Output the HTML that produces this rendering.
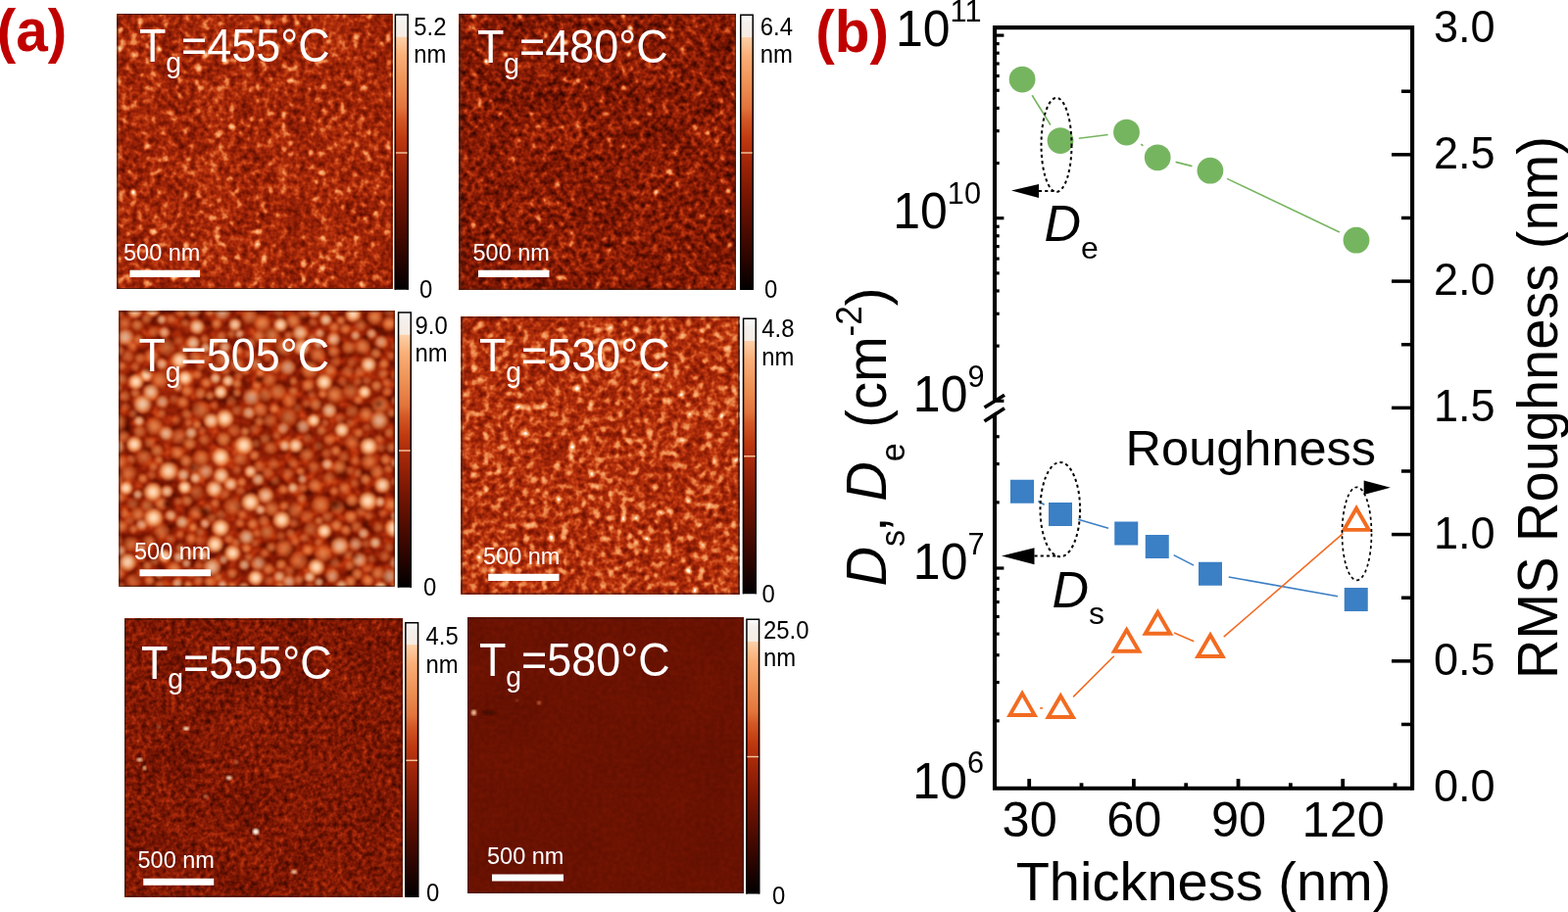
<!DOCTYPE html>
<html lang="en"><head><meta charset="utf-8"><title>Figure</title>
<style>html,body{margin:0;padding:0;background:#fff;}body{width:1600px;height:931px;overflow:hidden;}svg{display:block;}text{font-family:"Liberation Sans", Arial, Helvetica, sans-serif;}</style>
</head><body>
<svg width="1600" height="931" viewBox="0 0 1600 931">
<defs>
<linearGradient id="cbg" x1="0" y1="0" x2="0" y2="1">
<stop offset="0" stop-color="#fff"/><stop offset="0.03" stop-color="#f4f0ec"/><stop offset="0.082" stop-color="#f6ece2"/><stop offset="0.084" stop-color="#fdd0a8"/>
<stop offset="0.150" stop-color="rgb(250,175,120)"/>
<stop offset="0.250" stop-color="rgb(238,145,85)"/>
<stop offset="0.340" stop-color="rgb(226,116,60)"/>
<stop offset="0.380" stop-color="rgb(212,88,38)"/>
<stop offset="0.450" stop-color="rgb(192,58,16)"/>
<stop offset="0.500" stop-color="rgb(174,45,11)"/>
<stop offset="0.550" stop-color="rgb(156,36,8)"/>
<stop offset="0.650" stop-color="rgb(122,22,3)"/>
<stop offset="0.800" stop-color="rgb(72,10,0)"/>
<stop offset="0.900" stop-color="rgb(38,4,0)"/>
<stop offset="1.000" stop-color="rgb(0,0,0)"/>
</linearGradient>
<filter id="afm1" x="0" y="0" width="100%" height="100%" filterUnits="objectBoundingBox" color-interpolation-filters="sRGB">
<feTurbulence type="fractalNoise" baseFrequency="0.17" numOctaves="2" seed="3" result="t1"/>
<feColorMatrix in="t1" type="matrix" values="1 0 0 0 0  0 0 0 0 0  0 0 0 0 0  0 0 0 0 1" result="a"/>
<feTurbulence type="fractalNoise" baseFrequency="0.025" numOctaves="2" seed="23" result="t2"/>
<feColorMatrix in="t2" type="matrix" values="0 0 0 0 0  1 0 0 0 0  0 0 0 0 0  0 0 0 0 1" result="b"/>
<feTurbulence type="fractalNoise" baseFrequency="0.15" numOctaves="1" seed="43" result="t3"/>
<feColorMatrix in="t3" type="matrix" values="0 0 0 0 0  0 0 0 0 0  5 0 0 0 -3  0 0 0 0 1" result="c0"/>
<feGaussianBlur in="c0" stdDeviation="1.5" result="c"/>
<feComposite in="a" in2="b" operator="arithmetic" k1="0" k2="1" k3="1" k4="0" result="ab"/>
<feComposite in="ab" in2="c" operator="arithmetic" k1="0" k2="1" k3="1" k4="0" result="abc"/>
<feColorMatrix in="abc" type="matrix" values="0.5 0.18 0.6 0 0.115  0.5 0.18 0.6 0 0.115  0.5 0.18 0.6 0 0.115  0 0 0 0 1" result="h1"/>
<feGaussianBlur in="h1" stdDeviation="0.6" result="h2"/>
<feComponentTransfer><feFuncR type="table" tableValues="0.000 0.024 0.047 0.071 0.095 0.118 0.142 0.164 0.185 0.206 0.227 0.248 0.270 0.291 0.311 0.332 0.353 0.374 0.394 0.415 0.436 0.457 0.477 0.499 0.520 0.541 0.562 0.583 0.604 0.626 0.649 0.671 0.694 0.716 0.738 0.759 0.777 0.795 0.813 0.830 0.852 0.874 0.890 0.898 0.906 0.915 0.923 0.931 0.939 0.946 0.954 0.961 0.969 0.976 0.981 0.983 0.985 0.988 0.985 0.981 0.984 0.990 0.995 1.000"/><feFuncG type="table" tableValues="0.000 0.002 0.005 0.007 0.010 0.012 0.015 0.018 0.022 0.026 0.030 0.033 0.037 0.041 0.046 0.051 0.056 0.061 0.066 0.071 0.076 0.081 0.086 0.095 0.103 0.112 0.121 0.129 0.138 0.148 0.160 0.171 0.185 0.201 0.217 0.237 0.263 0.290 0.317 0.343 0.386 0.430 0.463 0.483 0.503 0.523 0.544 0.564 0.583 0.601 0.620 0.639 0.657 0.676 0.699 0.727 0.755 0.783 0.842 0.917 0.947 0.965 0.982 1.000"/><feFuncB type="table" tableValues="0.000 0.000 0.000 0.000 0.000 0.000 0.000 0.000 0.000 0.000 0.000 0.000 0.000 0.000 0.002 0.003 0.004 0.005 0.007 0.008 0.009 0.010 0.012 0.015 0.018 0.021 0.024 0.027 0.030 0.034 0.038 0.041 0.046 0.052 0.059 0.070 0.089 0.109 0.128 0.148 0.181 0.215 0.243 0.260 0.277 0.294 0.312 0.329 0.350 0.371 0.393 0.415 0.437 0.459 0.490 0.534 0.577 0.621 0.727 0.864 0.916 0.944 0.972 1.000"/></feComponentTransfer>
</filter>
<filter id="afm2" x="0" y="0" width="100%" height="100%" filterUnits="objectBoundingBox" color-interpolation-filters="sRGB">
<feTurbulence type="fractalNoise" baseFrequency="0.17" numOctaves="2" seed="7" result="t1"/>
<feColorMatrix in="t1" type="matrix" values="1 0 0 0 0  0 0 0 0 0  0 0 0 0 0  0 0 0 0 1" result="a"/>
<feTurbulence type="fractalNoise" baseFrequency="0.025" numOctaves="2" seed="27" result="t2"/>
<feColorMatrix in="t2" type="matrix" values="0 0 0 0 0  1 0 0 0 0  0 0 0 0 0  0 0 0 0 1" result="b"/>
<feTurbulence type="fractalNoise" baseFrequency="0.15" numOctaves="1" seed="47" result="t3"/>
<feColorMatrix in="t3" type="matrix" values="0 0 0 0 0  0 0 0 0 0  6 0 0 0 -3.9  0 0 0 0 1" result="c0"/>
<feGaussianBlur in="c0" stdDeviation="1.5" result="c"/>
<feComposite in="a" in2="b" operator="arithmetic" k1="0" k2="1" k3="1" k4="0" result="ab"/>
<feComposite in="ab" in2="c" operator="arithmetic" k1="0" k2="1" k3="1" k4="0" result="abc"/>
<feColorMatrix in="abc" type="matrix" values="0.65 0.16 0.7 0 -0.03  0.65 0.16 0.7 0 -0.03  0.65 0.16 0.7 0 -0.03  0 0 0 0 1" result="h1"/>
<feGaussianBlur in="h1" stdDeviation="0.6" result="h2"/>
<feComponentTransfer><feFuncR type="table" tableValues="0.000 0.024 0.047 0.071 0.095 0.118 0.142 0.164 0.185 0.206 0.227 0.248 0.270 0.291 0.311 0.332 0.353 0.374 0.394 0.415 0.436 0.457 0.477 0.499 0.520 0.541 0.562 0.583 0.604 0.626 0.649 0.671 0.694 0.716 0.738 0.759 0.777 0.795 0.813 0.830 0.852 0.874 0.890 0.898 0.906 0.915 0.923 0.931 0.939 0.946 0.954 0.961 0.969 0.976 0.981 0.983 0.985 0.988 0.985 0.981 0.984 0.990 0.995 1.000"/><feFuncG type="table" tableValues="0.000 0.002 0.005 0.007 0.010 0.012 0.015 0.018 0.022 0.026 0.030 0.033 0.037 0.041 0.046 0.051 0.056 0.061 0.066 0.071 0.076 0.081 0.086 0.095 0.103 0.112 0.121 0.129 0.138 0.148 0.160 0.171 0.185 0.201 0.217 0.237 0.263 0.290 0.317 0.343 0.386 0.430 0.463 0.483 0.503 0.523 0.544 0.564 0.583 0.601 0.620 0.639 0.657 0.676 0.699 0.727 0.755 0.783 0.842 0.917 0.947 0.965 0.982 1.000"/><feFuncB type="table" tableValues="0.000 0.000 0.000 0.000 0.000 0.000 0.000 0.000 0.000 0.000 0.000 0.000 0.000 0.000 0.002 0.003 0.004 0.005 0.007 0.008 0.009 0.010 0.012 0.015 0.018 0.021 0.024 0.027 0.030 0.034 0.038 0.041 0.046 0.052 0.059 0.070 0.089 0.109 0.128 0.148 0.181 0.215 0.243 0.260 0.277 0.294 0.312 0.329 0.350 0.371 0.393 0.415 0.437 0.459 0.490 0.534 0.577 0.621 0.727 0.864 0.916 0.944 0.972 1.000"/></feComponentTransfer>
</filter>
<filter id="afm3" x="0" y="0" width="100%" height="100%" filterUnits="objectBoundingBox" color-interpolation-filters="sRGB">
<feTurbulence type="fractalNoise" baseFrequency="0.09" numOctaves="2" seed="11" result="t1"/>
<feColorMatrix in="t1" type="matrix" values="1 0 0 0 0  0 0 0 0 0  0 0 0 0 0  0 0 0 0 1" result="a"/>
<feTurbulence type="fractalNoise" baseFrequency="0.02" numOctaves="2" seed="31" result="t2"/>
<feColorMatrix in="t2" type="matrix" values="0 0 0 0 0  1 0 0 0 0  0 0 0 0 0  0 0 0 0 1" result="b"/>
<feTurbulence type="fractalNoise" baseFrequency="0.075" numOctaves="1" seed="51" result="t3"/>
<feColorMatrix in="t3" type="matrix" values="0 0 0 0 0  0 0 0 0 0  5 0 0 0 -3  0 0 0 0 1" result="c0"/>
<feGaussianBlur in="c0" stdDeviation="2" result="c"/>
<feComposite in="a" in2="b" operator="arithmetic" k1="0" k2="1" k3="1" k4="0" result="ab"/>
<feComposite in="ab" in2="c" operator="arithmetic" k1="0" k2="1" k3="1" k4="0" result="abc"/>
<feColorMatrix in="abc" type="matrix" values="0.45 0.16 0.15 0 0.105  0.45 0.16 0.15 0 0.105  0.45 0.16 0.15 0 0.105  0 0 0 0 1" result="h1"/>
<feGaussianBlur in="h1" stdDeviation="0.7" result="h2"/>
<feComponentTransfer><feFuncR type="table" tableValues="0.000 0.024 0.047 0.071 0.095 0.118 0.142 0.164 0.185 0.206 0.227 0.248 0.270 0.291 0.311 0.332 0.353 0.374 0.394 0.415 0.436 0.457 0.477 0.499 0.520 0.541 0.562 0.583 0.604 0.626 0.649 0.671 0.694 0.716 0.738 0.759 0.777 0.795 0.813 0.830 0.852 0.874 0.890 0.898 0.906 0.915 0.923 0.931 0.939 0.946 0.954 0.961 0.969 0.976 0.981 0.983 0.985 0.988 0.985 0.981 0.984 0.990 0.995 1.000"/><feFuncG type="table" tableValues="0.000 0.002 0.005 0.007 0.010 0.012 0.015 0.018 0.022 0.026 0.030 0.033 0.037 0.041 0.046 0.051 0.056 0.061 0.066 0.071 0.076 0.081 0.086 0.095 0.103 0.112 0.121 0.129 0.138 0.148 0.160 0.171 0.185 0.201 0.217 0.237 0.263 0.290 0.317 0.343 0.386 0.430 0.463 0.483 0.503 0.523 0.544 0.564 0.583 0.601 0.620 0.639 0.657 0.676 0.699 0.727 0.755 0.783 0.842 0.917 0.947 0.965 0.982 1.000"/><feFuncB type="table" tableValues="0.000 0.000 0.000 0.000 0.000 0.000 0.000 0.000 0.000 0.000 0.000 0.000 0.000 0.000 0.002 0.003 0.004 0.005 0.007 0.008 0.009 0.010 0.012 0.015 0.018 0.021 0.024 0.027 0.030 0.034 0.038 0.041 0.046 0.052 0.059 0.070 0.089 0.109 0.128 0.148 0.181 0.215 0.243 0.260 0.277 0.294 0.312 0.329 0.350 0.371 0.393 0.415 0.437 0.459 0.490 0.534 0.577 0.621 0.727 0.864 0.916 0.944 0.972 1.000"/></feComponentTransfer>
</filter>
<filter id="afm4" x="0" y="0" width="100%" height="100%" filterUnits="objectBoundingBox" color-interpolation-filters="sRGB">
<feTurbulence type="fractalNoise" baseFrequency="0.17" numOctaves="2" seed="5" result="t1"/>
<feColorMatrix in="t1" type="matrix" values="1 0 0 0 0  0 0 0 0 0  0 0 0 0 0  0 0 0 0 1" result="a"/>
<feTurbulence type="fractalNoise" baseFrequency="0.025" numOctaves="2" seed="25" result="t2"/>
<feColorMatrix in="t2" type="matrix" values="0 0 0 0 0  1 0 0 0 0  0 0 0 0 0  0 0 0 0 1" result="b"/>
<feTurbulence type="fractalNoise" baseFrequency="0.15" numOctaves="1" seed="45" result="t3"/>
<feColorMatrix in="t3" type="matrix" values="0 0 0 0 0  0 0 0 0 0  5 0 0 0 -2.8  0 0 0 0 1" result="c0"/>
<feGaussianBlur in="c0" stdDeviation="1.5" result="c"/>
<feComposite in="a" in2="b" operator="arithmetic" k1="0" k2="1" k3="1" k4="0" result="ab"/>
<feComposite in="ab" in2="c" operator="arithmetic" k1="0" k2="1" k3="1" k4="0" result="abc"/>
<feColorMatrix in="abc" type="matrix" values="0.5 0.15 0.55 0 0.16  0.5 0.15 0.55 0 0.16  0.5 0.15 0.55 0 0.16  0 0 0 0 1" result="h1"/>
<feGaussianBlur in="h1" stdDeviation="0.6" result="h2"/>
<feComponentTransfer><feFuncR type="table" tableValues="0.000 0.024 0.047 0.071 0.095 0.118 0.142 0.164 0.185 0.206 0.227 0.248 0.270 0.291 0.311 0.332 0.353 0.374 0.394 0.415 0.436 0.457 0.477 0.499 0.520 0.541 0.562 0.583 0.604 0.626 0.649 0.671 0.694 0.716 0.738 0.759 0.777 0.795 0.813 0.830 0.852 0.874 0.890 0.898 0.906 0.915 0.923 0.931 0.939 0.946 0.954 0.961 0.969 0.976 0.981 0.983 0.985 0.988 0.985 0.981 0.984 0.990 0.995 1.000"/><feFuncG type="table" tableValues="0.000 0.002 0.005 0.007 0.010 0.012 0.015 0.018 0.022 0.026 0.030 0.033 0.037 0.041 0.046 0.051 0.056 0.061 0.066 0.071 0.076 0.081 0.086 0.095 0.103 0.112 0.121 0.129 0.138 0.148 0.160 0.171 0.185 0.201 0.217 0.237 0.263 0.290 0.317 0.343 0.386 0.430 0.463 0.483 0.503 0.523 0.544 0.564 0.583 0.601 0.620 0.639 0.657 0.676 0.699 0.727 0.755 0.783 0.842 0.917 0.947 0.965 0.982 1.000"/><feFuncB type="table" tableValues="0.000 0.000 0.000 0.000 0.000 0.000 0.000 0.000 0.000 0.000 0.000 0.000 0.000 0.000 0.002 0.003 0.004 0.005 0.007 0.008 0.009 0.010 0.012 0.015 0.018 0.021 0.024 0.027 0.030 0.034 0.038 0.041 0.046 0.052 0.059 0.070 0.089 0.109 0.128 0.148 0.181 0.215 0.243 0.260 0.277 0.294 0.312 0.329 0.350 0.371 0.393 0.415 0.437 0.459 0.490 0.534 0.577 0.621 0.727 0.864 0.916 0.944 0.972 1.000"/></feComponentTransfer>
</filter>
<filter id="afm5" x="0" y="0" width="100%" height="100%" filterUnits="objectBoundingBox" color-interpolation-filters="sRGB">
<feTurbulence type="fractalNoise" baseFrequency="0.2" numOctaves="2" seed="9" result="t1"/>
<feColorMatrix in="t1" type="matrix" values="1 0 0 0 0  0 0 0 0 0  0 0 0 0 0  0 0 0 0 1" result="a"/>
<feTurbulence type="fractalNoise" baseFrequency="0.025" numOctaves="2" seed="29" result="t2"/>
<feColorMatrix in="t2" type="matrix" values="0 0 0 0 0  1 0 0 0 0  0 0 0 0 0  0 0 0 0 1" result="b"/>
<feTurbulence type="fractalNoise" baseFrequency="0.21" numOctaves="1" seed="49" result="t3"/>
<feColorMatrix in="t3" type="matrix" values="0 0 0 0 0  0 0 0 0 0  6 0 0 0 -4.44  0 0 0 0 1" result="c0"/>
<feGaussianBlur in="c0" stdDeviation="1.1" result="c"/>
<feComposite in="a" in2="b" operator="arithmetic" k1="0" k2="1" k3="1" k4="0" result="ab"/>
<feComposite in="ab" in2="c" operator="arithmetic" k1="0" k2="1" k3="1" k4="0" result="abc"/>
<feColorMatrix in="abc" type="matrix" values="0.5 0.15 0.3 0 0.04  0.5 0.15 0.3 0 0.04  0.5 0.15 0.3 0 0.04  0 0 0 0 1" result="h1"/>
<feGaussianBlur in="h1" stdDeviation="0.5" result="h2"/>
<feComponentTransfer><feFuncR type="table" tableValues="0.000 0.024 0.047 0.071 0.095 0.118 0.142 0.164 0.185 0.206 0.227 0.248 0.270 0.291 0.311 0.332 0.353 0.374 0.394 0.415 0.436 0.457 0.477 0.499 0.520 0.541 0.562 0.583 0.604 0.626 0.649 0.671 0.694 0.716 0.738 0.759 0.777 0.795 0.813 0.830 0.852 0.874 0.890 0.898 0.906 0.915 0.923 0.931 0.939 0.946 0.954 0.961 0.969 0.976 0.981 0.983 0.985 0.988 0.985 0.981 0.984 0.990 0.995 1.000"/><feFuncG type="table" tableValues="0.000 0.002 0.005 0.007 0.010 0.012 0.015 0.018 0.022 0.026 0.030 0.033 0.037 0.041 0.046 0.051 0.056 0.061 0.066 0.071 0.076 0.081 0.086 0.095 0.103 0.112 0.121 0.129 0.138 0.148 0.160 0.171 0.185 0.201 0.217 0.237 0.263 0.290 0.317 0.343 0.386 0.430 0.463 0.483 0.503 0.523 0.544 0.564 0.583 0.601 0.620 0.639 0.657 0.676 0.699 0.727 0.755 0.783 0.842 0.917 0.947 0.965 0.982 1.000"/><feFuncB type="table" tableValues="0.000 0.000 0.000 0.000 0.000 0.000 0.000 0.000 0.000 0.000 0.000 0.000 0.000 0.000 0.002 0.003 0.004 0.005 0.007 0.008 0.009 0.010 0.012 0.015 0.018 0.021 0.024 0.027 0.030 0.034 0.038 0.041 0.046 0.052 0.059 0.070 0.089 0.109 0.128 0.148 0.181 0.215 0.243 0.260 0.277 0.294 0.312 0.329 0.350 0.371 0.393 0.415 0.437 0.459 0.490 0.534 0.577 0.621 0.727 0.864 0.916 0.944 0.972 1.000"/></feComponentTransfer>
</filter>
<filter id="afm6" x="0" y="0" width="100%" height="100%" filterUnits="objectBoundingBox" color-interpolation-filters="sRGB">
<feTurbulence type="fractalNoise" baseFrequency="0.2" numOctaves="2" seed="13" result="t1"/>
<feColorMatrix in="t1" type="matrix" values="1 0 0 0 0  0 0 0 0 0  0 0 0 0 0  0 0 0 0 1" result="a"/>
<feTurbulence type="fractalNoise" baseFrequency="0.02" numOctaves="2" seed="33" result="t2"/>
<feColorMatrix in="t2" type="matrix" values="0 0 0 0 0  1 0 0 0 0  0 0 0 0 0  0 0 0 0 1" result="b"/>
<feTurbulence type="fractalNoise" baseFrequency="0.2" numOctaves="1" seed="53" result="t3"/>
<feColorMatrix in="t3" type="matrix" values="0 0 0 0 0  0 0 0 0 0  8 0 0 0 -7.6  0 0 0 0 1" result="c0"/>
<feGaussianBlur in="c0" stdDeviation="1" result="c"/>
<feComposite in="a" in2="b" operator="arithmetic" k1="0" k2="1" k3="1" k4="0" result="ab"/>
<feComposite in="ab" in2="c" operator="arithmetic" k1="0" k2="1" k3="1" k4="0" result="abc"/>
<feColorMatrix in="abc" type="matrix" values="0.08 0.04 0.3 0 0.245  0.08 0.04 0.3 0 0.245  0.08 0.04 0.3 0 0.245  0 0 0 0 1" result="h1"/>
<feGaussianBlur in="h1" stdDeviation="0.5" result="h2"/>
<feComponentTransfer><feFuncR type="table" tableValues="0.000 0.024 0.047 0.071 0.095 0.118 0.142 0.164 0.185 0.206 0.227 0.248 0.270 0.291 0.311 0.332 0.353 0.374 0.394 0.415 0.436 0.457 0.477 0.499 0.520 0.541 0.562 0.583 0.604 0.626 0.649 0.671 0.694 0.716 0.738 0.759 0.777 0.795 0.813 0.830 0.852 0.874 0.890 0.898 0.906 0.915 0.923 0.931 0.939 0.946 0.954 0.961 0.969 0.976 0.981 0.983 0.985 0.988 0.985 0.981 0.984 0.990 0.995 1.000"/><feFuncG type="table" tableValues="0.000 0.002 0.005 0.007 0.010 0.012 0.015 0.018 0.022 0.026 0.030 0.033 0.037 0.041 0.046 0.051 0.056 0.061 0.066 0.071 0.076 0.081 0.086 0.095 0.103 0.112 0.121 0.129 0.138 0.148 0.160 0.171 0.185 0.201 0.217 0.237 0.263 0.290 0.317 0.343 0.386 0.430 0.463 0.483 0.503 0.523 0.544 0.564 0.583 0.601 0.620 0.639 0.657 0.676 0.699 0.727 0.755 0.783 0.842 0.917 0.947 0.965 0.982 1.000"/><feFuncB type="table" tableValues="0.000 0.000 0.000 0.000 0.000 0.000 0.000 0.000 0.000 0.000 0.000 0.000 0.000 0.000 0.002 0.003 0.004 0.005 0.007 0.008 0.009 0.010 0.012 0.015 0.018 0.021 0.024 0.027 0.030 0.034 0.038 0.041 0.046 0.052 0.059 0.070 0.089 0.109 0.128 0.148 0.181 0.215 0.243 0.260 0.277 0.294 0.312 0.329 0.350 0.371 0.393 0.415 0.437 0.459 0.490 0.534 0.577 0.621 0.727 0.864 0.916 0.944 0.972 1.000"/></feComponentTransfer>
</filter>
<radialGradient id="gr"><stop offset="0" stop-color="#f8a466" stop-opacity="1"/><stop offset="0.45" stop-color="#ec8042" stop-opacity="0.95"/><stop offset="0.78" stop-color="#d45a22" stop-opacity="0.7"/><stop offset="1" stop-color="#b83c10" stop-opacity="0"/></radialGradient><radialGradient id="gb"><stop offset="0" stop-color="#ffe8cc" stop-opacity="1"/><stop offset="0.4" stop-color="#fcc090" stop-opacity="1"/><stop offset="0.75" stop-color="#ea8848" stop-opacity="0.8"/><stop offset="1" stop-color="#c84c18" stop-opacity="0"/></radialGradient>
<filter id="soft" x="-5%" y="-5%" width="110%" height="110%"><feGaussianBlur stdDeviation="0.8"/></filter>
<radialGradient id="dk"><stop offset="0" stop-color="#3a0a00" stop-opacity="0.9"/><stop offset="1" stop-color="#6a1604" stop-opacity="0"/></radialGradient>
<clipPath id="clip3"><rect x="121.5" y="317.5" width="281.2" height="281.3"/></clipPath>
</defs>
<rect width="1600" height="931" fill="#fff"/>
<text transform="translate(-3.2,52.3) scale(0.97,1)" font-size="60.3" font-weight="bold" fill="#c00000">(a)</text>
<g>
<rect x="119.5" y="14" width="280.8" height="281" fill="#8a2a0c" filter="url(#afm1)"/>
<rect x="120" y="14.5" width="279.8" height="280" fill="none" stroke="#3a1a10" stroke-width="1" stroke-opacity="0.8"/>
<text transform="translate(141.9,63.3) scale(0.945,1)" font-size="47.5" fill="#fff">T<tspan font-size="30" dy="10.9">g</tspan><tspan dy="-10.9">=455°C</tspan></text>
<text x="126" y="266" font-size="23.5" fill="#fff">500 nm</text>
<rect x="132.5" y="275.75" width="71.5" height="7.25" fill="#fff"/>
</g>
<g>
<rect x="468.9" y="14" width="281.8" height="281.7" fill="#8a2a0c" filter="url(#afm2)"/>
<rect x="469.4" y="14.5" width="280.8" height="280.7" fill="none" stroke="#3a1a10" stroke-width="1" stroke-opacity="0.8"/>
<text transform="translate(486.9,63.6) scale(0.945,1)" font-size="47.5" fill="#fff">T<tspan font-size="30" dy="10.9">g</tspan><tspan dy="-10.9">=480°C</tspan></text>
<text x="482.5" y="266" font-size="23.5" fill="#fff">500 nm</text>
<rect x="488" y="275.75" width="72.5" height="7.25" fill="#fff"/>
</g>
<g>
<rect x="121.5" y="317.5" width="281.2" height="281.3" fill="#8a2a0c" filter="url(#afm3)"/>
<g clip-path="url(#clip3)"><g filter="url(#soft)">
<circle cx="330.9" cy="542.1" r="8.5" fill="url(#gb)" opacity="1.00"/>
<circle cx="382.4" cy="323.8" r="9.2" fill="url(#gr)" opacity="0.78"/>
<circle cx="304.5" cy="572.3" r="10.6" fill="url(#gr)" opacity="0.63"/>
<circle cx="189.8" cy="470.5" r="7.5" fill="url(#gr)" opacity="0.76"/>
<circle cx="181.3" cy="395.2" r="5.2" fill="url(#gb)" opacity="0.61"/>
<circle cx="165.0" cy="542.7" r="9.4" fill="url(#gr)" opacity="0.60"/>
<circle cx="155.6" cy="316.0" r="8.5" fill="url(#gb)" opacity="0.97"/>
<circle cx="180.9" cy="595.5" r="6.1" fill="url(#gb)" opacity="0.67"/>
<circle cx="393.5" cy="469.2" r="6.5" fill="url(#gr)" opacity="0.76"/>
<circle cx="387.7" cy="512.3" r="6.1" fill="url(#gb)" opacity="0.77"/>
<circle cx="204.7" cy="418.4" r="10.3" fill="url(#gr)" opacity="0.64"/>
<circle cx="138.1" cy="401.4" r="5.8" fill="url(#gr)" opacity="0.67"/>
<circle cx="312.7" cy="411.8" r="5.2" fill="url(#gr)" opacity="0.50"/>
<circle cx="256.5" cy="405.5" r="9.8" fill="url(#gb)" opacity="0.64"/>
<circle cx="135.7" cy="593.4" r="9.0" fill="url(#gr)" opacity="0.54"/>
<circle cx="360.3" cy="320.6" r="9.3" fill="url(#gb)" opacity="0.96"/>
<circle cx="284.4" cy="318.1" r="6.9" fill="url(#gr)" opacity="0.47"/>
<circle cx="391.7" cy="371.5" r="5.9" fill="url(#gr)" opacity="0.77"/>
<circle cx="388.0" cy="413.6" r="10.5" fill="url(#gr)" opacity="0.77"/>
<circle cx="340.5" cy="346.3" r="7.9" fill="url(#gb)" opacity="0.75"/>
<circle cx="145.5" cy="412.6" r="10.6" fill="url(#gb)" opacity="0.88"/>
<circle cx="216.4" cy="578.9" r="10.4" fill="url(#gb)" opacity="0.77"/>
<circle cx="209.8" cy="366.1" r="6.6" fill="url(#gr)" opacity="0.47"/>
<circle cx="315.9" cy="599.6" r="5.8" fill="url(#gr)" opacity="0.47"/>
<circle cx="187.1" cy="484.8" r="7.2" fill="url(#gb)" opacity="0.76"/>
<circle cx="239.7" cy="331.4" r="7.5" fill="url(#gb)" opacity="0.89"/>
<circle cx="260.2" cy="554.5" r="5.3" fill="url(#gr)" opacity="0.44"/>
<circle cx="390.2" cy="495.2" r="9.2" fill="url(#gb)" opacity="0.95"/>
<circle cx="243.3" cy="358.0" r="5.6" fill="url(#gr)" opacity="0.79"/>
<circle cx="248.6" cy="600.3" r="6.5" fill="url(#gb)" opacity="0.71"/>
<circle cx="248.8" cy="454.6" r="10.8" fill="url(#gb)" opacity="1.00"/>
<circle cx="226.9" cy="597.2" r="5.8" fill="url(#gb)" opacity="0.72"/>
<circle cx="197.1" cy="538.4" r="5.5" fill="url(#gr)" opacity="0.80"/>
<circle cx="343.5" cy="536.3" r="6.9" fill="url(#gr)" opacity="0.79"/>
<circle cx="336.0" cy="419.1" r="8.7" fill="url(#gb)" opacity="0.80"/>
<circle cx="257.9" cy="534.9" r="6.5" fill="url(#gr)" opacity="0.76"/>
<circle cx="122.8" cy="471.4" r="8.2" fill="url(#gr)" opacity="0.60"/>
<circle cx="251.4" cy="548.3" r="8.8" fill="url(#gb)" opacity="0.74"/>
<circle cx="218.6" cy="499.1" r="9.6" fill="url(#gb)" opacity="0.94"/>
<circle cx="219.3" cy="555.7" r="9.8" fill="url(#gb)" opacity="1.00"/>
<circle cx="397.7" cy="588.1" r="8.9" fill="url(#gb)" opacity="0.60"/>
<circle cx="255.5" cy="512.6" r="10.6" fill="url(#gb)" opacity="1.00"/>
<circle cx="309.2" cy="435.4" r="8.2" fill="url(#gb)" opacity="0.65"/>
<circle cx="301.0" cy="520.8" r="9.5" fill="url(#gr)" opacity="0.55"/>
<circle cx="245.2" cy="500.8" r="5.8" fill="url(#gr)" opacity="0.49"/>
<circle cx="299.3" cy="327.4" r="8.9" fill="url(#gr)" opacity="0.77"/>
<circle cx="134.9" cy="353.6" r="6.2" fill="url(#gr)" opacity="0.55"/>
<circle cx="174.6" cy="325.7" r="5.9" fill="url(#gr)" opacity="0.61"/>
<circle cx="293.9" cy="483.7" r="7.0" fill="url(#gr)" opacity="0.55"/>
<circle cx="119.7" cy="431.0" r="10.3" fill="url(#gr)" opacity="0.71"/>
<circle cx="152.3" cy="552.4" r="7.2" fill="url(#gr)" opacity="0.62"/>
<circle cx="294.4" cy="342.5" r="5.3" fill="url(#gr)" opacity="0.61"/>
<circle cx="285.1" cy="588.6" r="6.8" fill="url(#gb)" opacity="0.70"/>
<circle cx="351.2" cy="498.6" r="7.2" fill="url(#gr)" opacity="0.62"/>
<circle cx="280.8" cy="490.8" r="5.6" fill="url(#gr)" opacity="0.45"/>
<circle cx="373.5" cy="422.6" r="8.5" fill="url(#gr)" opacity="0.72"/>
<circle cx="202.6" cy="592.6" r="6.2" fill="url(#gr)" opacity="0.58"/>
<circle cx="399.1" cy="456.9" r="6.4" fill="url(#gr)" opacity="0.60"/>
<circle cx="255.4" cy="350.2" r="6.5" fill="url(#gr)" opacity="0.72"/>
<circle cx="386.0" cy="538.3" r="6.4" fill="url(#gr)" opacity="0.53"/>
<circle cx="163.6" cy="597.3" r="6.4" fill="url(#gr)" opacity="0.54"/>
<circle cx="205.2" cy="467.5" r="9.4" fill="url(#gr)" opacity="0.71"/>
<circle cx="270.5" cy="447.8" r="6.6" fill="url(#gr)" opacity="0.58"/>
<circle cx="249.3" cy="576.7" r="6.3" fill="url(#gb)" opacity="0.72"/>
<circle cx="123.6" cy="537.3" r="8.0" fill="url(#gr)" opacity="0.69"/>
<circle cx="321.3" cy="495.7" r="8.2" fill="url(#gr)" opacity="0.74"/>
<circle cx="229.4" cy="427.2" r="10.4" fill="url(#gb)" opacity="1.00"/>
<circle cx="204.0" cy="552.1" r="6.0" fill="url(#gr)" opacity="0.44"/>
<circle cx="342.0" cy="575.0" r="6.5" fill="url(#gr)" opacity="0.49"/>
<circle cx="276.0" cy="457.3" r="7.6" fill="url(#gr)" opacity="0.62"/>
<circle cx="286.5" cy="546.9" r="5.8" fill="url(#gr)" opacity="0.44"/>
<circle cx="353.1" cy="541.1" r="6.2" fill="url(#gr)" opacity="0.73"/>
<circle cx="325.4" cy="594.4" r="5.3" fill="url(#gb)" opacity="0.69"/>
<circle cx="133.4" cy="555.5" r="9.0" fill="url(#gr)" opacity="0.62"/>
<circle cx="202.9" cy="577.1" r="5.7" fill="url(#gr)" opacity="0.46"/>
<circle cx="140.0" cy="331.9" r="7.0" fill="url(#gr)" opacity="0.73"/>
<circle cx="369.9" cy="353.8" r="9.3" fill="url(#gr)" opacity="0.76"/>
<circle cx="290.6" cy="455.0" r="6.6" fill="url(#gb)" opacity="0.81"/>
<circle cx="135.4" cy="514.2" r="7.0" fill="url(#gr)" opacity="0.51"/>
<circle cx="263.7" cy="575.0" r="8.5" fill="url(#gb)" opacity="0.61"/>
<circle cx="333.4" cy="462.8" r="6.3" fill="url(#gr)" opacity="0.48"/>
<circle cx="225.3" cy="525.5" r="6.2" fill="url(#gr)" opacity="0.49"/>
<circle cx="306.2" cy="339.8" r="9.1" fill="url(#gb)" opacity="0.79"/>
<circle cx="155.1" cy="484.8" r="5.5" fill="url(#gr)" opacity="0.48"/>
<circle cx="162.5" cy="586.8" r="5.4" fill="url(#gr)" opacity="0.68"/>
<circle cx="152.6" cy="592.7" r="6.2" fill="url(#gr)" opacity="0.73"/>
<circle cx="186.5" cy="410.5" r="6.9" fill="url(#gr)" opacity="0.74"/>
<circle cx="229.4" cy="354.4" r="6.8" fill="url(#gb)" opacity="0.72"/>
<circle cx="348.8" cy="439.0" r="8.6" fill="url(#gb)" opacity="0.97"/>
<circle cx="253.5" cy="569.1" r="5.2" fill="url(#gr)" opacity="0.64"/>
<circle cx="164.8" cy="422.3" r="5.8" fill="url(#gr)" opacity="0.56"/>
<circle cx="162.9" cy="387.9" r="10.2" fill="url(#gr)" opacity="0.71"/>
<circle cx="201.3" cy="382.5" r="5.9" fill="url(#gr)" opacity="0.61"/>
<circle cx="388.9" cy="349.1" r="7.6" fill="url(#gb)" opacity="0.63"/>
<circle cx="141.8" cy="429.8" r="6.2" fill="url(#gb)" opacity="0.79"/>
<circle cx="208.4" cy="448.9" r="6.9" fill="url(#gr)" opacity="0.56"/>
<circle cx="324.1" cy="362.1" r="9.2" fill="url(#gr)" opacity="0.64"/>
<circle cx="397.5" cy="317.3" r="7.3" fill="url(#gr)" opacity="0.49"/>
<circle cx="188.9" cy="329.9" r="5.4" fill="url(#gr)" opacity="0.54"/>
<circle cx="192.3" cy="431.6" r="5.4" fill="url(#gr)" opacity="0.51"/>
<circle cx="264.5" cy="430.2" r="5.9" fill="url(#gr)" opacity="0.64"/>
<circle cx="209.0" cy="346.3" r="5.5" fill="url(#gr)" opacity="0.62"/>
<circle cx="290.0" cy="559.7" r="10.5" fill="url(#gr)" opacity="0.68"/>
<circle cx="355.0" cy="379.3" r="7.4" fill="url(#gr)" opacity="0.51"/>
<circle cx="144.5" cy="535.6" r="6.6" fill="url(#gb)" opacity="0.69"/>
<circle cx="156.5" cy="338.9" r="6.6" fill="url(#gr)" opacity="0.53"/>
<circle cx="241.7" cy="479.9" r="5.5" fill="url(#gr)" opacity="0.49"/>
<circle cx="319.2" cy="329.2" r="5.4" fill="url(#gr)" opacity="0.46"/>
<circle cx="226.0" cy="343.6" r="6.5" fill="url(#gr)" opacity="0.61"/>
<circle cx="333.9" cy="474.0" r="6.6" fill="url(#gb)" opacity="0.77"/>
<circle cx="327.0" cy="515.3" r="10.7" fill="url(#gr)" opacity="0.72"/>
<circle cx="200.9" cy="333.6" r="8.8" fill="url(#gb)" opacity="0.88"/>
<circle cx="127.3" cy="329.9" r="8.1" fill="url(#gr)" opacity="0.54"/>
<circle cx="364.5" cy="586.0" r="6.9" fill="url(#gr)" opacity="0.74"/>
<circle cx="241.7" cy="418.8" r="6.2" fill="url(#gr)" opacity="0.55"/>
<circle cx="146.7" cy="466.6" r="9.2" fill="url(#gr)" opacity="0.60"/>
<circle cx="279.8" cy="417.2" r="6.0" fill="url(#gr)" opacity="0.77"/>
<circle cx="219.8" cy="386.2" r="6.3" fill="url(#gb)" opacity="0.81"/>
<circle cx="130.3" cy="363.8" r="7.7" fill="url(#gr)" opacity="0.51"/>
<circle cx="376.1" cy="372.3" r="9.1" fill="url(#gb)" opacity="0.95"/>
<circle cx="314.1" cy="561.5" r="6.7" fill="url(#gr)" opacity="0.74"/>
<circle cx="226.8" cy="318.4" r="9.6" fill="url(#gb)" opacity="0.66"/>
<circle cx="127.2" cy="404.4" r="6.7" fill="url(#gr)" opacity="0.60"/>
<circle cx="320.0" cy="429.2" r="7.6" fill="url(#gb)" opacity="0.99"/>
<circle cx="272.5" cy="543.1" r="8.8" fill="url(#gr)" opacity="0.69"/>
<circle cx="313.1" cy="464.3" r="8.3" fill="url(#gr)" opacity="0.63"/>
<circle cx="384.3" cy="393.8" r="6.6" fill="url(#gr)" opacity="0.79"/>
<circle cx="375.2" cy="511.5" r="10.7" fill="url(#gb)" opacity="1.00"/>
<circle cx="293.6" cy="375.0" r="9.2" fill="url(#gb)" opacity="0.63"/>
<circle cx="170.3" cy="501.6" r="7.1" fill="url(#gb)" opacity="0.83"/>
<circle cx="294.4" cy="425.7" r="10.4" fill="url(#gr)" opacity="0.62"/>
<circle cx="277.2" cy="519.3" r="8.9" fill="url(#gr)" opacity="0.71"/>
<circle cx="299.9" cy="533.9" r="5.9" fill="url(#gr)" opacity="0.49"/>
<circle cx="199.5" cy="488.0" r="6.6" fill="url(#gb)" opacity="0.83"/>
<circle cx="288.9" cy="499.7" r="6.0" fill="url(#gr)" opacity="0.73"/>
<circle cx="137.0" cy="453.6" r="9.2" fill="url(#gb)" opacity="1.00"/>
<circle cx="359.1" cy="451.4" r="9.0" fill="url(#gr)" opacity="0.56"/>
<circle cx="322.7" cy="578.9" r="9.7" fill="url(#gb)" opacity="1.00"/>
<circle cx="137.9" cy="374.3" r="5.6" fill="url(#gr)" opacity="0.54"/>
<circle cx="313.4" cy="527.2" r="7.5" fill="url(#gr)" opacity="0.50"/>
<circle cx="260.7" cy="589.9" r="8.9" fill="url(#gb)" opacity="1.00"/>
<circle cx="152.8" cy="452.0" r="6.5" fill="url(#gr)" opacity="0.58"/>
<circle cx="283.6" cy="399.9" r="9.6" fill="url(#gr)" opacity="0.71"/>
<circle cx="267.5" cy="329.9" r="10.0" fill="url(#gr)" opacity="0.79"/>
<circle cx="124.2" cy="387.0" r="6.9" fill="url(#gr)" opacity="0.65"/>
<circle cx="397.2" cy="441.7" r="6.1" fill="url(#gr)" opacity="0.62"/>
<circle cx="237.3" cy="564.6" r="9.4" fill="url(#gb)" opacity="1.00"/>
<circle cx="154.7" cy="363.7" r="8.8" fill="url(#gr)" opacity="0.75"/>
<circle cx="228.1" cy="571.3" r="5.5" fill="url(#gb)" opacity="0.61"/>
<circle cx="290.2" cy="354.4" r="10.7" fill="url(#gr)" opacity="0.70"/>
<circle cx="241.8" cy="391.5" r="6.0" fill="url(#gr)" opacity="0.77"/>
<circle cx="340.4" cy="358.8" r="7.0" fill="url(#gr)" opacity="0.69"/>
<circle cx="255.6" cy="481.3" r="7.0" fill="url(#gb)" opacity="0.88"/>
<circle cx="320.6" cy="317.8" r="7.6" fill="url(#gb)" opacity="0.75"/>
<circle cx="263.2" cy="489.5" r="7.2" fill="url(#gb)" opacity="0.73"/>
<circle cx="225.1" cy="466.6" r="10.5" fill="url(#gb)" opacity="1.00"/>
<circle cx="247.4" cy="525.3" r="5.5" fill="url(#gr)" opacity="0.61"/>
<circle cx="356.0" cy="354.8" r="8.0" fill="url(#gr)" opacity="0.65"/>
<circle cx="280.8" cy="374.6" r="7.7" fill="url(#gr)" opacity="0.69"/>
<circle cx="395.2" cy="390.5" r="5.8" fill="url(#gr)" opacity="0.51"/>
<circle cx="330.7" cy="390.2" r="9.5" fill="url(#gb)" opacity="1.00"/>
<circle cx="194.6" cy="565.3" r="6.3" fill="url(#gr)" opacity="0.61"/>
<circle cx="169.9" cy="354.6" r="10.3" fill="url(#gr)" opacity="0.59"/>
<circle cx="130.8" cy="483.3" r="10.1" fill="url(#gr)" opacity="0.61"/>
<circle cx="194.6" cy="585.3" r="6.1" fill="url(#gr)" opacity="0.50"/>
<circle cx="357.7" cy="399.2" r="9.5" fill="url(#gr)" opacity="0.59"/>
<circle cx="298.9" cy="498.1" r="6.4" fill="url(#gb)" opacity="0.80"/>
<circle cx="235.9" cy="409.4" r="6.4" fill="url(#gr)" opacity="0.46"/>
<circle cx="385.5" cy="585.1" r="7.8" fill="url(#gr)" opacity="0.71"/>
<circle cx="350.6" cy="466.3" r="6.7" fill="url(#gr)" opacity="0.49"/>
<circle cx="387.1" cy="448.3" r="5.4" fill="url(#gr)" opacity="0.57"/>
<circle cx="335.7" cy="487.9" r="7.5" fill="url(#gr)" opacity="0.52"/>
<circle cx="403.8" cy="353.5" r="5.6" fill="url(#gr)" opacity="0.46"/>
<circle cx="246.7" cy="492.1" r="5.5" fill="url(#gr)" opacity="0.79"/>
<circle cx="318.6" cy="345.5" r="5.9" fill="url(#gr)" opacity="0.66"/>
<circle cx="221.0" cy="330.5" r="6.3" fill="url(#gr)" opacity="0.77"/>
<circle cx="301.6" cy="454.8" r="8.3" fill="url(#gb)" opacity="0.95"/>
<circle cx="157.4" cy="435.2" r="10.2" fill="url(#gr)" opacity="0.80"/>
<circle cx="156.0" cy="502.2" r="10.8" fill="url(#gb)" opacity="1.00"/>
<circle cx="119.8" cy="584.4" r="9.2" fill="url(#gr)" opacity="0.68"/>
<circle cx="397.2" cy="558.5" r="6.1" fill="url(#gr)" opacity="0.51"/>
<circle cx="306.6" cy="481.2" r="5.2" fill="url(#gr)" opacity="0.71"/>
<circle cx="225.7" cy="485.6" r="9.2" fill="url(#gb)" opacity="0.91"/>
<circle cx="250.1" cy="440.5" r="5.6" fill="url(#gr)" opacity="0.77"/>
<circle cx="241.7" cy="401.0" r="5.2" fill="url(#gr)" opacity="0.70"/>
<circle cx="315.9" cy="377.4" r="10.3" fill="url(#gr)" opacity="0.79"/>
<circle cx="359.0" cy="419.7" r="7.9" fill="url(#gr)" opacity="0.52"/>
<circle cx="121.5" cy="357.9" r="6.5" fill="url(#gr)" opacity="0.62"/>
<circle cx="352.2" cy="335.7" r="6.5" fill="url(#gr)" opacity="0.68"/>
<circle cx="363.6" cy="537.4" r="6.7" fill="url(#gr)" opacity="0.57"/>
<circle cx="313.8" cy="447.1" r="6.1" fill="url(#gr)" opacity="0.45"/>
<circle cx="367.9" cy="332.1" r="7.4" fill="url(#gr)" opacity="0.56"/>
<circle cx="194.8" cy="549.8" r="6.5" fill="url(#gr)" opacity="0.66"/>
<circle cx="169.5" cy="442.6" r="8.3" fill="url(#gb)" opacity="0.78"/>
<circle cx="200.6" cy="502.6" r="8.5" fill="url(#gr)" opacity="0.52"/>
<circle cx="165.6" cy="410.2" r="7.5" fill="url(#gb)" opacity="0.65"/>
<circle cx="362.7" cy="555.4" r="7.8" fill="url(#gb)" opacity="0.60"/>
<circle cx="225.1" cy="538.9" r="10.2" fill="url(#gb)" opacity="1.00"/>
<circle cx="156.6" cy="528.5" r="11.0" fill="url(#gb)" opacity="1.00"/>
<circle cx="198.7" cy="364.9" r="7.5" fill="url(#gr)" opacity="0.66"/>
<circle cx="341.4" cy="402.8" r="10.3" fill="url(#gr)" opacity="0.75"/>
<circle cx="261.9" cy="393.4" r="5.3" fill="url(#gr)" opacity="0.60"/>
<circle cx="182.5" cy="445.5" r="9.6" fill="url(#gr)" opacity="0.56"/>
<circle cx="403.2" cy="526.5" r="5.6" fill="url(#gb)" opacity="0.66"/>
<circle cx="324.7" cy="455.4" r="5.9" fill="url(#gr)" opacity="0.43"/>
<circle cx="358.0" cy="527.6" r="7.6" fill="url(#gr)" opacity="0.78"/>
<circle cx="184.5" cy="317.1" r="8.2" fill="url(#gr)" opacity="0.63"/>
<circle cx="199.8" cy="523.7" r="8.2" fill="url(#gr)" opacity="0.58"/>
<circle cx="219.7" cy="513.6" r="5.5" fill="url(#gr)" opacity="0.66"/>
<circle cx="339.1" cy="588.1" r="8.0" fill="url(#gb)" opacity="0.61"/>
<circle cx="259.8" cy="464.8" r="6.2" fill="url(#gr)" opacity="0.76"/>
<circle cx="341.0" cy="501.3" r="5.5" fill="url(#gr)" opacity="0.62"/>
<circle cx="271.0" cy="505.7" r="9.4" fill="url(#gb)" opacity="0.79"/>
<circle cx="209.2" cy="534.5" r="5.8" fill="url(#gb)" opacity="0.70"/>
<circle cx="190.7" cy="399.1" r="6.9" fill="url(#gr)" opacity="0.75"/>
<circle cx="244.7" cy="533.8" r="5.6" fill="url(#gr)" opacity="0.63"/>
<circle cx="374.6" cy="436.4" r="5.3" fill="url(#gr)" opacity="0.40"/>
<circle cx="149.2" cy="383.3" r="7.3" fill="url(#gb)" opacity="0.96"/>
<circle cx="122.4" cy="507.8" r="7.2" fill="url(#gr)" opacity="0.60"/>
<circle cx="143.8" cy="569.2" r="5.4" fill="url(#gr)" opacity="0.63"/>
<circle cx="240.8" cy="554.0" r="5.4" fill="url(#gr)" opacity="0.64"/>
<circle cx="376.2" cy="455.7" r="10.3" fill="url(#gb)" opacity="1.00"/>
<circle cx="372.0" cy="400.2" r="7.6" fill="url(#gb)" opacity="0.99"/>
<circle cx="382.9" cy="554.1" r="6.7" fill="url(#gb)" opacity="0.81"/>
<circle cx="218.6" cy="413.8" r="5.3" fill="url(#gr)" opacity="0.45"/>
<circle cx="236.9" cy="585.5" r="6.4" fill="url(#gr)" opacity="0.70"/>
<circle cx="182.0" cy="347.6" r="6.0" fill="url(#gr)" opacity="0.43"/>
<circle cx="168.1" cy="567.5" r="7.7" fill="url(#gb)" opacity="0.94"/>
<circle cx="250.4" cy="378.5" r="5.3" fill="url(#gr)" opacity="0.66"/>
<circle cx="204.4" cy="401.7" r="6.9" fill="url(#gr)" opacity="0.74"/>
<circle cx="344.6" cy="518.4" r="8.3" fill="url(#gr)" opacity="0.58"/>
<circle cx="171.8" cy="481.0" r="10.9" fill="url(#gb)" opacity="0.95"/>
<circle cx="372.9" cy="489.3" r="6.5" fill="url(#gr)" opacity="0.78"/>
<circle cx="213.7" cy="594.3" r="6.4" fill="url(#gr)" opacity="0.74"/>
<circle cx="141.1" cy="346.6" r="6.4" fill="url(#gr)" opacity="0.69"/>
<circle cx="253.8" cy="421.4" r="7.3" fill="url(#gb)" opacity="0.70"/>
<circle cx="197.4" cy="316.1" r="9.0" fill="url(#gb)" opacity="0.69"/>
<circle cx="327.9" cy="439.6" r="6.2" fill="url(#gr)" opacity="0.68"/>
<circle cx="209.8" cy="481.3" r="8.8" fill="url(#gb)" opacity="0.60"/>
<circle cx="314.4" cy="393.4" r="7.6" fill="url(#gr)" opacity="0.77"/>
<circle cx="357.7" cy="593.8" r="6.9" fill="url(#gr)" opacity="0.80"/>
<circle cx="388.4" cy="600.4" r="7.7" fill="url(#gb)" opacity="1.00"/>
<circle cx="190.7" cy="423.0" r="6.2" fill="url(#gr)" opacity="0.62"/>
<circle cx="366.7" cy="571.7" r="8.7" fill="url(#gb)" opacity="0.67"/>
<circle cx="279.1" cy="473.8" r="7.0" fill="url(#gr)" opacity="0.52"/>
<circle cx="261.2" cy="371.7" r="8.0" fill="url(#gr)" opacity="0.70"/>
<circle cx="299.1" cy="473.0" r="6.2" fill="url(#gr)" opacity="0.54"/>
<circle cx="235.4" cy="494.3" r="7.6" fill="url(#gb)" opacity="0.86"/>
<circle cx="188.9" cy="385.9" r="8.8" fill="url(#gb)" opacity="1.00"/>
<circle cx="185.8" cy="533.0" r="7.5" fill="url(#gb)" opacity="0.75"/>
<circle cx="310.6" cy="549.1" r="5.7" fill="url(#gr)" opacity="0.54"/>
<circle cx="228.0" cy="448.4" r="8.5" fill="url(#gr)" opacity="0.80"/>
<circle cx="346.6" cy="427.2" r="6.3" fill="url(#gr)" opacity="0.49"/>
<circle cx="179.6" cy="428.8" r="5.7" fill="url(#gr)" opacity="0.45"/>
<circle cx="265.6" cy="418.2" r="8.6" fill="url(#gr)" opacity="0.71"/>
<circle cx="390.8" cy="524.3" r="5.3" fill="url(#gr)" opacity="0.43"/>
<circle cx="342.7" cy="460.2" r="6.1" fill="url(#gr)" opacity="0.77"/>
<circle cx="183.8" cy="559.6" r="5.7" fill="url(#gr)" opacity="0.66"/>
<circle cx="128.6" cy="498.3" r="7.9" fill="url(#gb)" opacity="1.00"/>
<circle cx="286.2" cy="331.6" r="8.1" fill="url(#gb)" opacity="0.96"/>
<circle cx="243.5" cy="383.2" r="5.4" fill="url(#gr)" opacity="0.46"/>
<circle cx="294.8" cy="593.7" r="7.6" fill="url(#gb)" opacity="0.66"/>
<circle cx="222.3" cy="589.4" r="5.3" fill="url(#gr)" opacity="0.59"/>
<circle cx="209.8" cy="355.0" r="6.0" fill="url(#gb)" opacity="0.70"/>
<circle cx="142.3" cy="440.5" r="7.5" fill="url(#gr)" opacity="0.62"/>
<circle cx="191.0" cy="511.2" r="6.4" fill="url(#gr)" opacity="0.73"/>
<circle cx="127.3" cy="524.2" r="5.6" fill="url(#gr)" opacity="0.56"/>
<circle cx="157.7" cy="572.9" r="5.6" fill="url(#gr)" opacity="0.51"/>
<circle cx="320.1" cy="476.8" r="7.0" fill="url(#gr)" opacity="0.56"/>
<circle cx="286.8" cy="576.3" r="6.5" fill="url(#gr)" opacity="0.75"/>
<circle cx="379.1" cy="570.7" r="5.5" fill="url(#gr)" opacity="0.44"/>
<circle cx="399.0" cy="363.0" r="5.5" fill="url(#gr)" opacity="0.51"/>
<circle cx="259.5" cy="438.2" r="6.2" fill="url(#gr)" opacity="0.48"/>
<circle cx="376.7" cy="471.0" r="9.3" fill="url(#gr)" opacity="0.70"/>
<circle cx="198.6" cy="478.0" r="6.7" fill="url(#gr)" opacity="0.52"/>
<circle cx="346.6" cy="557.3" r="10.4" fill="url(#gb)" opacity="0.80"/>
<circle cx="130.3" cy="573.9" r="10.3" fill="url(#gb)" opacity="0.93"/>
<circle cx="183.2" cy="367.8" r="9.8" fill="url(#gb)" opacity="0.98"/>
<circle cx="127.9" cy="415.4" r="5.6" fill="url(#gr)" opacity="0.42"/>
<circle cx="322.2" cy="412.9" r="7.3" fill="url(#gr)" opacity="0.74"/>
<circle cx="295.4" cy="582.9" r="6.6" fill="url(#gr)" opacity="0.45"/>
<circle cx="193.6" cy="452.9" r="7.5" fill="url(#gr)" opacity="0.78"/>
<circle cx="274.5" cy="592.8" r="6.0" fill="url(#gr)" opacity="0.47"/>
<circle cx="357.0" cy="480.5" r="5.3" fill="url(#gr)" opacity="0.46"/>
<circle cx="299.3" cy="399.2" r="5.8" fill="url(#gr)" opacity="0.67"/>
<circle cx="177.6" cy="580.1" r="8.2" fill="url(#gr)" opacity="0.77"/>
<circle cx="332.5" cy="326.5" r="7.1" fill="url(#gb)" opacity="0.85"/>
<circle cx="316.9" cy="540.3" r="8.4" fill="url(#gr)" opacity="0.56"/>
<circle cx="237.6" cy="517.2" r="10.4" fill="url(#gr)" opacity="0.60"/>
<circle cx="140.6" cy="504.8" r="5.6" fill="url(#gb)" opacity="0.72"/>
<circle cx="160.2" cy="460.0" r="7.6" fill="url(#gr)" opacity="0.71"/>
<circle cx="376.0" cy="526.4" r="6.0" fill="url(#gr)" opacity="0.48"/>
<circle cx="245.0" cy="468.6" r="8.4" fill="url(#gr)" opacity="0.62"/>
<circle cx="392.5" cy="567.7" r="6.8" fill="url(#gr)" opacity="0.49"/>
<circle cx="366.0" cy="441.9" r="5.7" fill="url(#gr)" opacity="0.68"/>
<circle cx="364.8" cy="389.6" r="5.8" fill="url(#gr)" opacity="0.44"/>
<circle cx="164.9" cy="326.3" r="5.6" fill="url(#gb)" opacity="0.71"/>
<circle cx="153.9" cy="400.1" r="9.3" fill="url(#gb)" opacity="0.83"/>
<circle cx="149.6" cy="325.4" r="6.2" fill="url(#gr)" opacity="0.60"/>
<circle cx="177.6" cy="407.3" r="5.7" fill="url(#gr)" opacity="0.45"/>
<circle cx="329.9" cy="565.2" r="10.1" fill="url(#gr)" opacity="0.74"/>
<circle cx="404.4" cy="382.9" r="6.4" fill="url(#gr)" opacity="0.57"/>
<circle cx="227.5" cy="366.4" r="9.1" fill="url(#gr)" opacity="0.70"/>
<circle cx="403.9" cy="408.9" r="5.8" fill="url(#gr)" opacity="0.69"/>
<circle cx="303.6" cy="416.6" r="5.3" fill="url(#gr)" opacity="0.43"/>
<circle cx="150.4" cy="577.5" r="5.9" fill="url(#gr)" opacity="0.67"/>
<circle cx="225.1" cy="400.3" r="7.8" fill="url(#gb)" opacity="0.97"/>
<circle cx="342.3" cy="369.2" r="6.2" fill="url(#gr)" opacity="0.44"/>
<circle cx="341.3" cy="334.1" r="6.2" fill="url(#gr)" opacity="0.68"/>
<circle cx="400.2" cy="515.1" r="8.6" fill="url(#gr)" opacity="0.72"/>
<circle cx="200.9" cy="433.5" r="5.5" fill="url(#gr)" opacity="0.74"/>
<circle cx="324.9" cy="553.8" r="5.3" fill="url(#gr)" opacity="0.52"/>
<circle cx="404.3" cy="472.6" r="6.1" fill="url(#gb)" opacity="0.72"/>
<circle cx="361.9" cy="493.1" r="5.5" fill="url(#gr)" opacity="0.49"/>
<circle cx="386.9" cy="429.3" r="10.5" fill="url(#gb)" opacity="0.74"/>
<circle cx="174.2" cy="526.2" r="6.6" fill="url(#gb)" opacity="0.73"/>
<circle cx="288.9" cy="437.3" r="6.8" fill="url(#gb)" opacity="0.60"/>
<circle cx="379.0" cy="340.7" r="6.0" fill="url(#gb)" opacity="0.66"/>
<circle cx="277.6" cy="341.9" r="9.4" fill="url(#gr)" opacity="0.71"/>
<circle cx="402.5" cy="539.2" r="11.0" fill="url(#gb)" opacity="1.00"/>
<circle cx="326.3" cy="340.3" r="5.6" fill="url(#gb)" opacity="0.64"/>
<circle cx="307.9" cy="508.9" r="5.9" fill="url(#gr)" opacity="0.68"/>
<circle cx="287.4" cy="530.8" r="10.2" fill="url(#gb)" opacity="1.00"/>
<circle cx="138.7" cy="389.8" r="9.0" fill="url(#gb)" opacity="1.00"/>
<circle cx="358.9" cy="369.9" r="6.1" fill="url(#gr)" opacity="0.43"/>
<circle cx="261.2" cy="452.9" r="5.4" fill="url(#gr)" opacity="0.47"/>
<circle cx="190.4" cy="575.1" r="5.2" fill="url(#gb)" opacity="0.66"/>
<circle cx="397.3" cy="330.3" r="8.5" fill="url(#gr)" opacity="0.80"/>
<circle cx="145.7" cy="488.6" r="5.8" fill="url(#gr)" opacity="0.77"/>
<circle cx="173.9" cy="550.1" r="5.5" fill="url(#gr)" opacity="0.49"/>
<circle cx="357.5" cy="432.0" r="5.6" fill="url(#gr)" opacity="0.45"/>
<circle cx="301.1" cy="553.0" r="5.4" fill="url(#gr)" opacity="0.47"/>
<circle cx="336.0" cy="448.8" r="6.8" fill="url(#gr)" opacity="0.66"/>
<circle cx="207.0" cy="566.6" r="6.5" fill="url(#gb)" opacity="0.85"/>
<circle cx="210.4" cy="390.8" r="6.3" fill="url(#gr)" opacity="0.72"/>
<circle cx="339.9" cy="315.9" r="5.6" fill="url(#gr)" opacity="0.47"/>
<circle cx="274.9" cy="387.6" r="8.3" fill="url(#gr)" opacity="0.62"/>
<circle cx="172.9" cy="381.1" r="5.9" fill="url(#gr)" opacity="0.42"/>
<circle cx="215.3" cy="429.5" r="8.8" fill="url(#gb)" opacity="0.90"/>
<circle cx="133.8" cy="468.9" r="5.7" fill="url(#gr)" opacity="0.55"/>
<circle cx="359.0" cy="510.7" r="7.4" fill="url(#gr)" opacity="0.77"/>
<circle cx="162.2" cy="469.7" r="5.4" fill="url(#gr)" opacity="0.68"/>
<circle cx="197.0" cy="350.1" r="8.0" fill="url(#gb)" opacity="0.83"/>
<circle cx="325.1" cy="351.0" r="5.5" fill="url(#gb)" opacity="0.65"/>
<circle cx="403.5" cy="598.2" r="5.8" fill="url(#gr)" opacity="0.79"/>
<circle cx="375.4" cy="592.7" r="7.3" fill="url(#gr)" opacity="0.77"/>
<circle cx="269.4" cy="357.0" r="5.5" fill="url(#gr)" opacity="0.57"/>
<circle cx="188.4" cy="497.5" r="7.8" fill="url(#gb)" opacity="1.00"/>
<circle cx="192.2" cy="597.1" r="5.3" fill="url(#gr)" opacity="0.78"/>
<circle cx="269.9" cy="564.6" r="5.7" fill="url(#gr)" opacity="0.54"/>
<circle cx="349.6" cy="389.7" r="5.9" fill="url(#gr)" opacity="0.45"/>
<circle cx="265.6" cy="520.4" r="5.9" fill="url(#gb)" opacity="0.78"/>
<circle cx="399.7" cy="421.5" r="5.6" fill="url(#gr)" opacity="0.62"/>
<circle cx="182.2" cy="568.7" r="6.3" fill="url(#gb)" opacity="0.74"/>
<circle cx="307.9" cy="354.6" r="9.5" fill="url(#gb)" opacity="0.86"/>
<circle cx="362.6" cy="470.2" r="6.0" fill="url(#gr)" opacity="0.53"/>
<circle cx="366.8" cy="379.6" r="6.3" fill="url(#gr)" opacity="0.57"/>
<circle cx="124.1" cy="373.6" r="5.7" fill="url(#gr)" opacity="0.65"/>
<circle cx="204.1" cy="543.2" r="5.5" fill="url(#gr)" opacity="0.54"/>
<circle cx="290.0" cy="516.3" r="5.5" fill="url(#gr)" opacity="0.71"/>
<circle cx="273.1" cy="482.3" r="6.8" fill="url(#gr)" opacity="0.55"/>
<circle cx="164.4" cy="514.0" r="7.8" fill="url(#gr)" opacity="0.79"/>
<circle cx="368.1" cy="522.5" r="5.9" fill="url(#gr)" opacity="0.54"/>
<circle cx="230.0" cy="378.3" r="5.7" fill="url(#gr)" opacity="0.53"/>
<circle cx="140.7" cy="525.0" r="8.2" fill="url(#gr)" opacity="0.71"/>
<circle cx="346.3" cy="476.7" r="8.3" fill="url(#gr)" opacity="0.73"/>
<circle cx="125.7" cy="445.5" r="7.4" fill="url(#gr)" opacity="0.62"/>
<circle cx="275.3" cy="429.1" r="8.3" fill="url(#gr)" opacity="0.54"/>
<circle cx="315.9" cy="589.0" r="6.6" fill="url(#gb)" opacity="0.83"/>
<circle cx="254.6" cy="322.9" r="9.6" fill="url(#gr)" opacity="0.69"/>
<circle cx="156.5" cy="476.6" r="5.5" fill="url(#gr)" opacity="0.64"/>
<circle cx="239.0" cy="439.5" r="7.8" fill="url(#gr)" opacity="0.50"/>
<circle cx="390.8" cy="381.5" r="6.1" fill="url(#gr)" opacity="0.65"/>
<circle cx="142.9" cy="365.7" r="6.6" fill="url(#gr)" opacity="0.61"/>
<circle cx="165.0" cy="371.7" r="6.7" fill="url(#gb)" opacity="0.69"/>
<circle cx="347.9" cy="327.2" r="5.5" fill="url(#gr)" opacity="0.73"/>
<circle cx="264.7" cy="476.3" r="6.7" fill="url(#gr)" opacity="0.57"/>
<circle cx="137.4" cy="317.0" r="9.0" fill="url(#gb)" opacity="0.87"/>
<circle cx="181.0" cy="462.1" r="7.9" fill="url(#gr)" opacity="0.72"/>
<circle cx="181.9" cy="511.8" r="5.3" fill="url(#gr)" opacity="0.51"/>
<circle cx="214.0" cy="318.5" r="5.7" fill="url(#gr)" opacity="0.76"/>
<circle cx="127.8" cy="344.1" r="9.7" fill="url(#gb)" opacity="0.75"/>
<circle cx="384.7" cy="481.6" r="8.2" fill="url(#gr)" opacity="0.65"/>
<circle cx="244.4" cy="340.9" r="5.3" fill="url(#gb)" opacity="0.66"/>
<circle cx="365.6" cy="408.3" r="5.6" fill="url(#gr)" opacity="0.70"/>
<circle cx="167.6" cy="339.3" r="6.6" fill="url(#gb)" opacity="0.66"/>
<circle cx="211.8" cy="519.0" r="5.9" fill="url(#gr)" opacity="0.52"/>
<circle cx="356.9" cy="577.2" r="6.3" fill="url(#gr)" opacity="0.59"/>
<circle cx="119.5" cy="456.1" r="8.6" fill="url(#gb)" opacity="0.70"/>
<circle cx="276.6" cy="558.7" r="6.0" fill="url(#gr)" opacity="0.67"/>
<circle cx="241.6" cy="372.1" r="8.9" fill="url(#gr)" opacity="0.69"/>
<circle cx="135.7" cy="422.2" r="5.3" fill="url(#gr)" opacity="0.51"/>
<circle cx="373.3" cy="554.9" r="5.6" fill="url(#gr)" opacity="0.46"/>
<circle cx="236.1" cy="340.8" r="5.3" fill="url(#gr)" opacity="0.57"/>
<circle cx="336.8" cy="378.0" r="7.5" fill="url(#gr)" opacity="0.73"/>
<circle cx="195.0" cy="441.9" r="7.0" fill="url(#gb)" opacity="0.75"/>
<circle cx="269.0" cy="531.6" r="7.0" fill="url(#gr)" opacity="0.59"/>
<circle cx="136.2" cy="540.0" r="5.3" fill="url(#gr)" opacity="0.69"/>
<circle cx="219.2" cy="349.5" r="5.7" fill="url(#gr)" opacity="0.80"/>
<circle cx="273.9" cy="581.0" r="6.9" fill="url(#gr)" opacity="0.71"/>
<circle cx="119.7" cy="552.1" r="6.6" fill="url(#gr)" opacity="0.55"/>
<circle cx="395.2" cy="399.5" r="6.1" fill="url(#gr)" opacity="0.56"/>
<circle cx="402.9" cy="491.9" r="5.4" fill="url(#gr)" opacity="0.59"/>
<circle cx="264.3" cy="343.0" r="7.6" fill="url(#gr)" opacity="0.71"/>
<circle cx="308.6" cy="319.8" r="6.5" fill="url(#gr)" opacity="0.45"/>
<circle cx="295.4" cy="409.2" r="8.4" fill="url(#gr)" opacity="0.58"/>
<circle cx="308.6" cy="498.3" r="6.0" fill="url(#gr)" opacity="0.57"/>
<circle cx="362.7" cy="342.5" r="5.6" fill="url(#gb)" opacity="0.69"/>
<circle cx="404.5" cy="574.6" r="8.1" fill="url(#gb)" opacity="0.68"/>
<circle cx="348.6" cy="597.6" r="6.4" fill="url(#gb)" opacity="0.72"/>
<circle cx="206.2" cy="439.5" r="5.2" fill="url(#gr)" opacity="0.44"/>
<circle cx="396.1" cy="478.6" r="5.5" fill="url(#gr)" opacity="0.54"/>
<circle cx="325.5" cy="531.8" r="5.4" fill="url(#gr)" opacity="0.71"/>
<circle cx="251.4" cy="560.0" r="5.7" fill="url(#gr)" opacity="0.79"/>
<circle cx="273.3" cy="365.1" r="5.4" fill="url(#gr)" opacity="0.45"/>
<circle cx="265.3" cy="381.0" r="5.3" fill="url(#gr)" opacity="0.77"/>
<circle cx="254.2" cy="361.4" r="5.5" fill="url(#gr)" opacity="0.47"/>
<circle cx="270.4" cy="402.9" r="8.6" fill="url(#gr)" opacity="0.59"/>
<circle cx="204.5" cy="374.4" r="5.2" fill="url(#gr)" opacity="0.44"/>
<circle cx="144.6" cy="559.8" r="5.2" fill="url(#gb)" opacity="0.67"/>
<circle cx="299.5" cy="389.1" r="5.2" fill="url(#gr)" opacity="0.66"/>
<circle cx="282.5" cy="444.3" r="5.4" fill="url(#gr)" opacity="0.49"/>
<circle cx="375.4" cy="580.6" r="5.5" fill="url(#gr)" opacity="0.45"/>
<circle cx="383.5" cy="360.7" r="6.5" fill="url(#gr)" opacity="0.73"/>
<circle cx="329.3" cy="402.1" r="5.3" fill="url(#gr)" opacity="0.75"/>
<circle cx="132.2" cy="531.3" r="5.6" fill="url(#gr)" opacity="0.46"/>
<circle cx="237.1" cy="599.0" r="5.7" fill="url(#gr)" opacity="0.76"/>
<circle cx="219.5" cy="376.4" r="6.0" fill="url(#gr)" opacity="0.59"/>
<circle cx="122.2" cy="320.6" r="5.2" fill="url(#gr)" opacity="0.41"/>
<circle cx="144.7" cy="585.0" r="5.9" fill="url(#gr)" opacity="0.47"/>
<circle cx="286.0" cy="598.1" r="5.4" fill="url(#gr)" opacity="0.77"/>
<circle cx="334.2" cy="527.6" r="6.7" fill="url(#gr)" opacity="0.56"/>
<circle cx="296.6" cy="544.2" r="5.5" fill="url(#gr)" opacity="0.60"/>
<circle cx="183.4" cy="545.7" r="5.2" fill="url(#gr)" opacity="0.50"/>
<circle cx="122.7" cy="600.4" r="7.3" fill="url(#gr)" opacity="0.60"/>
<circle cx="365.0" cy="483.2" r="5.4" fill="url(#gr)" opacity="0.57"/>
<circle cx="119.7" cy="395.6" r="5.5" fill="url(#gr)" opacity="0.70"/>
<circle cx="261.9" cy="544.5" r="5.2" fill="url(#gr)" opacity="0.54"/>
<circle cx="305.0" cy="591.8" r="5.7" fill="url(#gr)" opacity="0.73"/>
<circle cx="388.6" cy="456.9" r="5.7" fill="url(#gr)" opacity="0.47"/>
<circle cx="229.5" cy="504.2" r="6.5" fill="url(#gr)" opacity="0.50"/>
<circle cx="308.5" cy="489.1" r="5.3" fill="url(#gb)" opacity="0.67"/>
<circle cx="122.9" cy="562.2" r="6.6" fill="url(#gb)" opacity="0.62"/>
<circle cx="355.4" cy="566.4" r="5.8" fill="url(#gr)" opacity="0.54"/>
<circle cx="331.7" cy="431.8" r="5.2" fill="url(#gr)" opacity="0.48"/>
<circle cx="216.0" cy="528.8" r="6.1" fill="url(#gr)" opacity="0.52"/>
<circle cx="370.8" cy="544.5" r="6.4" fill="url(#gb)" opacity="0.71"/>
<circle cx="374.2" cy="388.6" r="5.4" fill="url(#gr)" opacity="0.49"/>
<circle cx="232.6" cy="388.9" r="6.9" fill="url(#gb)" opacity="0.90"/>
<circle cx="119.9" cy="490.9" r="7.0" fill="url(#gr)" opacity="0.56"/>
<circle cx="214.2" cy="404.0" r="5.6" fill="url(#gr)" opacity="0.73"/>
<circle cx="318.3" cy="403.1" r="5.3" fill="url(#gr)" opacity="0.44"/>
<circle cx="150.0" cy="516.1" r="7.7" fill="url(#gr)" opacity="0.62"/>
<circle cx="233.5" cy="550.2" r="5.6" fill="url(#gr)" opacity="0.64"/>
<circle cx="188.1" cy="356.4" r="6.0" fill="url(#gr)" opacity="0.53"/>
<circle cx="208.5" cy="522.5" r="7.0" fill="url(#dk)" opacity="1.00"/>
<circle cx="170.5" cy="514.5" r="6.0" fill="url(#dk)" opacity="1.00"/>
<circle cx="341.5" cy="514.5" r="8.0" fill="url(#dk)" opacity="0.90"/>
<circle cx="264.5" cy="387.5" r="6.0" fill="url(#dk)" opacity="0.80"/>
<circle cx="196.5" cy="477.5" r="7.0" fill="url(#dk)" opacity="0.70"/>
<circle cx="386.5" cy="412.5" r="6.0" fill="url(#dk)" opacity="0.70"/>
<circle cx="301.5" cy="437.5" r="6.0" fill="url(#dk)" opacity="0.60"/>
<circle cx="151.5" cy="377.5" r="6.0" fill="url(#dk)" opacity="0.60"/>
<circle cx="361.5" cy="567.5" r="6.0" fill="url(#dk)" opacity="0.60"/>
</g></g>
<rect x="122" y="318" width="280.2" height="280.3" fill="none" stroke="#3a1a10" stroke-width="1" stroke-opacity="0.8"/>
<text transform="translate(141.4,378.75) scale(0.945,1)" font-size="47.5" fill="#fff">T<tspan font-size="30" dy="10.9">g</tspan><tspan dy="-10.9">=505°C</tspan></text>
<text x="137" y="570.75" font-size="23.5" fill="#fff">500 nm</text>
<rect x="142.5" y="581.25" width="72.5" height="7" fill="#fff"/>
</g>
<g>
<rect x="470.75" y="323.6" width="283.45" height="282.9" fill="#8a2a0c" filter="url(#afm4)"/>
<rect x="471.25" y="324.1" width="282.45" height="281.9" fill="none" stroke="#3a1a10" stroke-width="1" stroke-opacity="0.8"/>
<text transform="translate(488.9,378.75) scale(0.945,1)" font-size="47.5" fill="#fff">T<tspan font-size="30" dy="10.9">g</tspan><tspan dy="-10.9">=530°C</tspan></text>
<text x="493" y="575.5" font-size="23.5" fill="#fff">500 nm</text>
<rect x="498.25" y="585.75" width="72.25" height="7.25" fill="#fff"/>
</g>
<g>
<rect x="127" y="631.9" width="283.5" height="283.5" fill="#8a2a0c" filter="url(#afm5)"/>
<ellipse cx="190" cy="743.75" rx="3" ry="2" fill="#ffe0c0" opacity="0.95" filter="url(#soft)"/>
<ellipse cx="142.5" cy="775.5" rx="3" ry="2" fill="#ffd0a8" opacity="0.9" filter="url(#soft)"/>
<ellipse cx="147.5" cy="784" rx="2.2" ry="2.5" fill="#ffc090" opacity="0.8" filter="url(#soft)"/>
<ellipse cx="233.75" cy="794" rx="3" ry="2" fill="#ffd8b8" opacity="0.95" filter="url(#soft)"/>
<ellipse cx="241" cy="778" rx="2.5" ry="2" fill="#f09060" opacity="0.6" filter="url(#soft)"/>
<ellipse cx="210" cy="813" rx="2.5" ry="2" fill="#f0a070" opacity="0.6" filter="url(#soft)"/>
<ellipse cx="261" cy="849" rx="3.2" ry="3" fill="#fff0e0" opacity="1" filter="url(#soft)"/>
<ellipse cx="300" cy="890" rx="3" ry="2" fill="#ffd0a8" opacity="0.9" filter="url(#soft)"/>
<ellipse cx="162" cy="742" rx="2.5" ry="2" fill="#e88858" opacity="0.5" filter="url(#soft)"/>
<rect x="127.5" y="632.4" width="282.5" height="282.5" fill="none" stroke="#3a1a10" stroke-width="1" stroke-opacity="0.8"/>
<text transform="translate(143.9,692.5) scale(0.945,1)" font-size="47.5" fill="#fff">T<tspan font-size="30" dy="10.9">g</tspan><tspan dy="-10.9">=555°C</tspan></text>
<text x="140.5" y="886" font-size="23.5" fill="#fff">500 nm</text>
<rect x="146.25" y="896.75" width="72" height="7" fill="#fff"/>
</g>
<g>
<rect x="477" y="630.7" width="281.6" height="281.05" fill="#8a2a0c" filter="url(#afm6)"/>
<ellipse cx="483.5" cy="727.5" rx="2.6" ry="3" fill="#ffc8a0" opacity="0.9" filter="url(#soft)"/>
<ellipse cx="499" cy="727.5" rx="7" ry="2.6" fill="#3a0800" opacity="0.75" filter="url(#soft)"/>
<ellipse cx="550" cy="717.5" rx="2" ry="2" fill="#e88050" opacity="0.7" filter="url(#soft)"/>
<ellipse cx="527.5" cy="715" rx="1.6" ry="1.6" fill="#d87040" opacity="0.5" filter="url(#soft)"/>
<rect x="477.5" y="631.2" width="280.6" height="280.05" fill="none" stroke="#3a1a10" stroke-width="1" stroke-opacity="0.8"/>
<text transform="translate(488.9,690) scale(0.945,1)" font-size="47.5" fill="#fff">T<tspan font-size="30" dy="10.9">g</tspan><tspan dy="-10.9">=580°C</tspan></text>
<text x="497" y="882.25" font-size="23.5" fill="#fff">500 nm</text>
<rect x="502" y="892.5" width="73" height="7" fill="#fff"/>
</g>
<g>
<rect x="402.6" y="14.3" width="14.3" height="281.45" fill="url(#cbg)"/>
<path d="M403.35 295.75 V15.05 H416.15 V295.75" fill="none" stroke="#000" stroke-width="1.5"/>
<rect x="403.8" y="155.3" width="11.9" height="1.4" fill="#f6c9a0"/>
<text transform="translate(422.3,35.6) scale(0.955,1)" font-size="25" fill="#000">5.2</text>
<text transform="translate(422.3,64) scale(0.955,1)" font-size="25" fill="#000">nm</text>
<text transform="translate(428,304) scale(0.955,1)" font-size="25" fill="#000">0</text>
</g>
<g>
<rect x="755" y="14.5" width="14" height="281.5" fill="url(#cbg)"/>
<path d="M755.75 296 V15.25 H768.25 V296" fill="none" stroke="#000" stroke-width="1.5"/>
<rect x="756.2" y="155.3" width="11.6" height="1.4" fill="#f6c9a0"/>
<text transform="translate(775.8,35.6) scale(0.955,1)" font-size="25" fill="#000">6.4</text>
<text transform="translate(775.8,64) scale(0.955,1)" font-size="25" fill="#000">nm</text>
<text transform="translate(780,304) scale(0.955,1)" font-size="25" fill="#000">0</text>
</g>
<g>
<rect x="405.8" y="318.3" width="14.2" height="281.4" fill="url(#cbg)"/>
<path d="M406.55 599.7 V319.05 H419.25 V599.7" fill="none" stroke="#000" stroke-width="1.5"/>
<rect x="407" y="459.3" width="11.8" height="1.4" fill="#f6c9a0"/>
<text transform="translate(423.5,340.5) scale(0.955,1)" font-size="25" fill="#000">9.0</text>
<text transform="translate(423.5,369) scale(0.955,1)" font-size="25" fill="#000">nm</text>
<text transform="translate(432.1,608.4) scale(0.955,1)" font-size="25" fill="#000">0</text>
</g>
<g>
<rect x="757.8" y="324.6" width="14.2" height="281.65" fill="url(#cbg)"/>
<path d="M758.55 606.25 V325.35 H771.25 V606.25" fill="none" stroke="#000" stroke-width="1.5"/>
<rect x="759" y="465.05" width="11.8" height="1.4" fill="#f6c9a0"/>
<text transform="translate(777.3,344.4) scale(0.955,1)" font-size="25" fill="#000">4.8</text>
<text transform="translate(777.3,373) scale(0.955,1)" font-size="25" fill="#000">nm</text>
<text transform="translate(777.4,614.6) scale(0.955,1)" font-size="25" fill="#000">0</text>
</g>
<g>
<rect x="413.1" y="635" width="14.2" height="281" fill="url(#cbg)"/>
<path d="M413.85 916 V635.75 H426.55 V916" fill="none" stroke="#000" stroke-width="1.5"/>
<rect x="414.3" y="775.55" width="11.8" height="1.4" fill="#f6c9a0"/>
<text transform="translate(434.5,658) scale(0.955,1)" font-size="25" fill="#000">4.5</text>
<text transform="translate(434.5,686.5) scale(0.955,1)" font-size="25" fill="#000">nm</text>
<text transform="translate(435,920) scale(0.955,1)" font-size="25" fill="#000">0</text>
</g>
<g>
<rect x="761.2" y="631.5" width="14.1" height="281" fill="url(#cbg)"/>
<path d="M761.95 912.5 V632.25 H774.55 V912.5" fill="none" stroke="#000" stroke-width="1.5"/>
<rect x="762.4" y="771.8" width="11.7" height="1.4" fill="#f6c9a0"/>
<text transform="translate(779,652) scale(0.955,1)" font-size="25" fill="#000">25.0</text>
<text transform="translate(779,680.3) scale(0.955,1)" font-size="25" fill="#000">nm</text>
<text transform="translate(788,923) scale(0.955,1)" font-size="25" fill="#000">0</text>
</g>
<g id="chart">
<text transform="translate(832.3,52.5) scale(0.97,1)" font-size="60.3" font-weight="bold" fill="#c00000">(b)</text>
<g stroke="#000" stroke-width="4.1" fill="none" stroke-linecap="butt">
<path d="M1015 409.5 V28.1 H1441.1 V806.75"/>
<path d="M1015 424 V804.7 H1441.1"/>
</g>
<g stroke="#000" stroke-width="3.6" fill="none">
<path d="M1004.5 416 L1025 403.2"/>
<path d="M1004.5 430 L1025 416.7"/>
</g>
<g stroke="#000" stroke-width="3.2" fill="none">
<path d="M1015 36.10 H1024.4"/>
<path d="M1015 44.64 H1019.7"/>
<path d="M1015 54.18 H1019.7"/>
<path d="M1015 65.00 H1019.7"/>
<path d="M1015 77.50 H1019.7"/>
<path d="M1015 92.27 H1019.7"/>
<path d="M1015 110.36 H1019.7"/>
<path d="M1015 133.67 H1019.7"/>
<path d="M1015 166.53 H1019.7"/>
<path d="M1015 222.70 H1024.4"/>
<path d="M1015 231.24 H1019.7"/>
<path d="M1015 240.78 H1019.7"/>
<path d="M1015 251.60 H1019.7"/>
<path d="M1015 264.10 H1019.7"/>
<path d="M1015 278.87 H1019.7"/>
<path d="M1015 296.96 H1019.7"/>
<path d="M1015 320.27 H1019.7"/>
<path d="M1015 353.13 H1019.7"/>
<path d="M1015 409.30 H1024.4"/>
<path d="M1015 445.74 H1019.7"/>
<path d="M1015 473.60 H1019.7"/>
<path d="M1015 512.87 H1019.7"/>
<path d="M1015 580.00 H1024.4"/>
<path d="M1015 590.20 H1019.7"/>
<path d="M1015 601.61 H1019.7"/>
<path d="M1015 614.54 H1019.7"/>
<path d="M1015 629.47 H1019.7"/>
<path d="M1015 647.13 H1019.7"/>
<path d="M1015 668.74 H1019.7"/>
<path d="M1015 696.60 H1019.7"/>
<path d="M1015 735.87 H1019.7"/>
<path d="M1441.1 739.48 H1430" stroke-width="3.5"/>
<path d="M1441.1 674.85 H1420" stroke-width="3.5"/>
<path d="M1441.1 610.23 H1430" stroke-width="3.5"/>
<path d="M1441.1 545.60 H1420" stroke-width="3.5"/>
<path d="M1441.1 480.98 H1430" stroke-width="3.5"/>
<path d="M1441.1 416.35 H1420" stroke-width="3.5"/>
<path d="M1441.1 351.73 H1430" stroke-width="3.5"/>
<path d="M1441.1 287.10 H1420" stroke-width="3.5"/>
<path d="M1441.1 222.48 H1430" stroke-width="3.5"/>
<path d="M1441.1 157.85 H1420" stroke-width="3.5"/>
<path d="M1441.1 93.23 H1430" stroke-width="3.5"/>
<path d="M1050.20 804.7 V795.1" stroke-width="3.8"/>
<path d="M1103.53 804.7 V799.3" stroke-width="3.8"/>
<path d="M1156.87 804.7 V795.1" stroke-width="3.8"/>
<path d="M1210.20 804.7 V799.3" stroke-width="3.8"/>
<path d="M1263.54 804.7 V795.1" stroke-width="3.8"/>
<path d="M1316.87 804.7 V799.3" stroke-width="3.8"/>
<path d="M1370.20 804.7 V795.1" stroke-width="3.8"/>
<path d="M1423.54 804.7 V799.3" stroke-width="3.8"/>
</g>
<text transform="translate(1001.5,47) scale(0.96,1)" font-size="52" text-anchor="end" fill="#000">10<tspan font-size="32" dy="-25.5">11</tspan></text>
<text transform="translate(1001,233) scale(0.96,1)" font-size="52" text-anchor="end" fill="#000">10<tspan font-size="32" dy="-25.5">10</tspan></text>
<text transform="translate(1004.5,420) scale(0.96,1)" font-size="52" text-anchor="end" fill="#000">10<tspan font-size="32" dy="-25.5">9</tspan></text>
<text transform="translate(1004.5,591) scale(0.96,1)" font-size="52" text-anchor="end" fill="#000">10<tspan font-size="32" dy="-25.5">7</tspan></text>
<text transform="translate(1004,814.5) scale(0.96,1)" font-size="52" text-anchor="end" fill="#000">10<tspan font-size="32" dy="-25.5">6</tspan></text>
<text transform="translate(1463,818.20) scale(0.98,1)" font-size="46" fill="#000">0.0</text>
<text transform="translate(1463,688.95) scale(0.98,1)" font-size="46" fill="#000">0.5</text>
<text transform="translate(1463,559.70) scale(0.98,1)" font-size="46" fill="#000">1.0</text>
<text transform="translate(1463,430.45) scale(0.98,1)" font-size="46" fill="#000">1.5</text>
<text transform="translate(1463,301.20) scale(0.98,1)" font-size="46" fill="#000">2.0</text>
<text transform="translate(1463,171.95) scale(0.98,1)" font-size="46" fill="#000">2.5</text>
<text transform="translate(1463,42.70) scale(0.98,1)" font-size="46" fill="#000">3.0</text>
<text x="1050.70" y="854.3" font-size="50.5" text-anchor="middle" fill="#000">30</text>
<text x="1157.37" y="854.3" font-size="50.5" text-anchor="middle" fill="#000">60</text>
<text x="1264.04" y="854.3" font-size="50.5" text-anchor="middle" fill="#000">90</text>
<text x="1370.70" y="854.3" font-size="50.5" text-anchor="middle" fill="#000">120</text>
<text x="1228" y="919" font-size="56" text-anchor="middle" fill="#000">Thickness (nm)</text>
<text transform="translate(904,598.5) rotate(-90) scale(0.975,1)" font-size="57.5" fill="#000"><tspan font-style="italic">D</tspan><tspan font-size="35" dy="19">s</tspan><tspan dy="-19" dx="-2">, </tspan><tspan font-style="italic">D</tspan><tspan font-size="35" dy="19">e</tspan><tspan dy="-19"> (cm</tspan><tspan font-size="36" dy="-25">-2</tspan><tspan dy="25">)</tspan></text>
<text transform="translate(1588.5,416) rotate(-90) scale(0.991,1)" font-size="56.5" text-anchor="middle" fill="#000">RMS Roughness (nm)</text>
<line x1="1053.14" y1="97.23" x2="1071.96" y2="127.47" stroke="#76b560" stroke-width="1.6"/>
<line x1="1100.85" y1="141.23" x2="1130.65" y2="137.47" stroke="#76b560" stroke-width="1.6"/>
<line x1="1164.26" y1="147.07" x2="1166.44" y2="148.83" stroke="#76b560" stroke-width="1.6"/>
<line x1="1199.63" y1="165.40" x2="1216.47" y2="169.60" stroke="#76b560" stroke-width="1.6"/>
<line x1="1252.05" y1="182.37" x2="1366.85" y2="237.03" stroke="#76b560" stroke-width="1.6"/>
<line x1="1059.32" y1="511.48" x2="1065.68" y2="515.27" stroke="#3b7fc4" stroke-width="1.6"/>
<line x1="1100.25" y1="530.29" x2="1131.00" y2="539.21" stroke="#3b7fc4" stroke-width="1.6"/>
<line x1="1197.67" y1="566.65" x2="1218.08" y2="577.10" stroke="#3b7fc4" stroke-width="1.6"/>
<line x1="1253.71" y1="589.05" x2="1365.04" y2="608.70" stroke="#3b7fc4" stroke-width="1.6"/>
<line x1="1061.26" y1="722.86" x2="1064.14" y2="723.04" stroke="#f26b21" stroke-width="1.6"/>
<line x1="1095.17" y1="711.33" x2="1136.73" y2="669.77" stroke="#f26b21" stroke-width="1.6"/>
<line x1="1198.09" y1="646.06" x2="1218.31" y2="654.84" stroke="#f26b21" stroke-width="1.6"/>
<line x1="1248.75" y1="650.18" x2="1370.35" y2="544.72" stroke="#f26b21" stroke-width="1.6"/>
<circle cx="1043.1" cy="81.1" r="13.4" fill="#76b560"/>
<circle cx="1082" cy="143.6" r="13.4" fill="#76b560"/>
<circle cx="1149.5" cy="135.1" r="13.4" fill="#76b560"/>
<circle cx="1181.2" cy="160.8" r="13.4" fill="#76b560"/>
<circle cx="1234.9" cy="174.2" r="13.4" fill="#76b560"/>
<circle cx="1384" cy="245.2" r="13.4" fill="#76b560"/>
<rect x="1031" y="489.75" width="24" height="24" fill="#3b7fc4"/>
<rect x="1070" y="513" width="24" height="24" fill="#3b7fc4"/>
<rect x="1137.25" y="532.5" width="24" height="24" fill="#3b7fc4"/>
<rect x="1168.75" y="546" width="24" height="24" fill="#3b7fc4"/>
<rect x="1223" y="573.75" width="24" height="24" fill="#3b7fc4"/>
<rect x="1371.75" y="600" width="24" height="24" fill="#3b7fc4"/>
<path d="M1043.1 707.9 L1055.75 730.05 L1030.45 730.05 Z" fill="none" stroke="#f26b21" stroke-width="3.9" stroke-linejoin="miter" stroke-miterlimit="10"/>
<path d="M1082.3 710.4 L1094.95 732.05 L1069.65 732.05 Z" fill="none" stroke="#f26b21" stroke-width="3.9" stroke-linejoin="miter" stroke-miterlimit="10"/>
<path d="M1149.6 643.1 L1162.25 664.75 L1136.95 664.75 Z" fill="none" stroke="#f26b21" stroke-width="3.9" stroke-linejoin="miter" stroke-miterlimit="10"/>
<path d="M1181.4 625 L1194.05 646.75 L1168.75 646.75 Z" fill="none" stroke="#f26b21" stroke-width="3.9" stroke-linejoin="miter" stroke-miterlimit="10"/>
<path d="M1235 648.3 L1247.65 669.95 L1222.35 669.95 Z" fill="none" stroke="#f26b21" stroke-width="3.9" stroke-linejoin="miter" stroke-miterlimit="10"/>
<path d="M1384.1 519 L1396.75 540.85 L1371.45 540.85 Z" fill="none" stroke="#f26b21" stroke-width="3.9" stroke-linejoin="miter" stroke-miterlimit="10"/>
<g fill="none" stroke="#000" stroke-width="2" stroke-dasharray="3.1 3.1">
<ellipse cx="1078" cy="147.9" rx="15.5" ry="48"/>
<ellipse cx="1081.8" cy="520.1" rx="20.3" ry="48.2"/>
<ellipse cx="1384.5" cy="544.8" rx="15" ry="47.5" stroke-width="1.7"/>
<path d="M1060 195 H1076"/>
<path d="M1055.5 567.5 H1080"/>
</g>
<path d="M1032 194.5 L1060 188 L1060 202 Z" fill="#000"/>
<path d="M1022 567.5 L1055.5 559.25 L1055.5 576.25 Z" fill="#000"/>
<path d="M1418.9 497.7 L1391.7 490.6 L1391.7 504.9 Z" fill="#000"/>
<text x="1065.5" y="246.25" font-size="52" fill="#000"><tspan font-style="italic">D</tspan><tspan font-size="32" dy="18">e</tspan></text>
<text x="1073.5" y="620" font-size="52" fill="#000"><tspan font-style="italic">D</tspan><tspan font-size="32" dy="16.5">s</tspan></text>
<text x="1148.6" y="474.7" font-size="50.5" fill="#000">Roughness</text>
</g>
</svg>
</body></html>
